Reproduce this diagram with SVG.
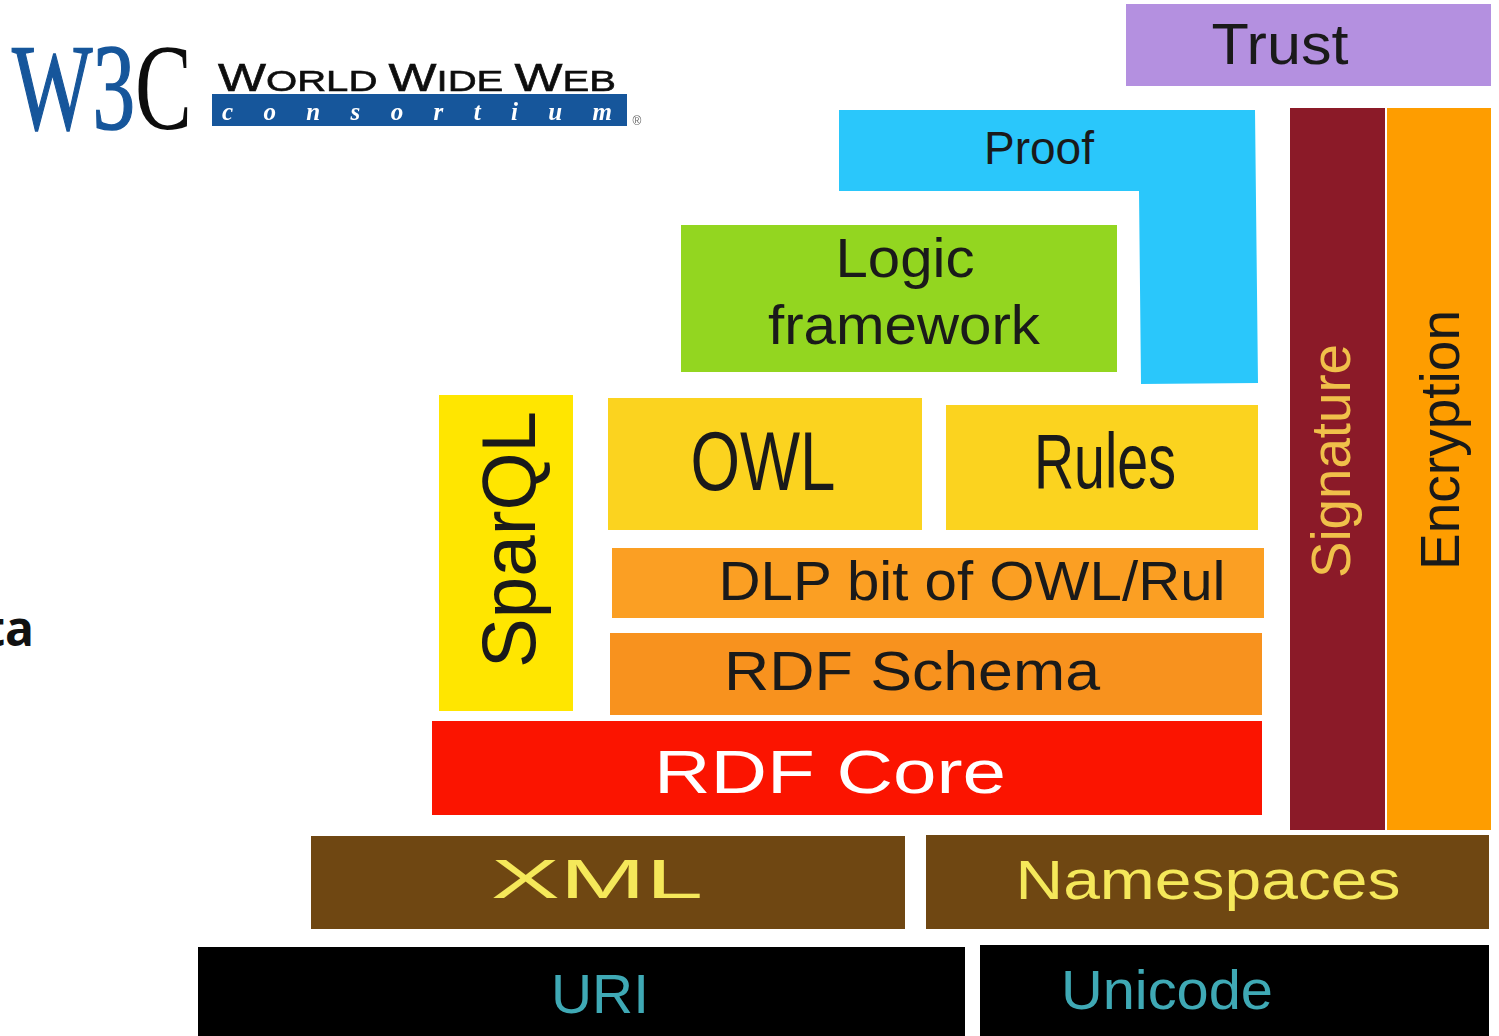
<svg xmlns="http://www.w3.org/2000/svg" width="1499" height="1036" viewBox="0 0 1499 1036">
<style>
text{font-family:"Liberation Sans",Arial,sans-serif;fill:#1a1a1a;text-anchor:middle}
.y{fill:#f5e85a}.c{fill:#3fa9b5}.w{fill:#fff}
</style>
<defs><filter id="soft" x="-5%" y="-5%" width="110%" height="110%"><feGaussianBlur stdDeviation="0.7"/></filter></defs>
<rect width="1499" height="1036" fill="#fff"/>
<g id="logo" filter="url(#soft)">
<text x="102" y="129" textLength="180" lengthAdjust="spacingAndGlyphs" style="font-family:'Liberation Serif',serif;font-size:122px;fill:#17569b;stroke:#17569b;stroke-width:1.5">W3<tspan style="fill:#111;stroke:none">C</tspan></text>
<text x="417" y="91" textLength="398" lengthAdjust="spacingAndGlyphs" style="font-size:30px;fill:#111;stroke:#111;stroke-width:.6"><tspan style="font-size:38px">W</tspan>ORLD  <tspan style="font-size:38px">W</tspan>IDE  <tspan style="font-size:38px">W</tspan>EB</text>
<rect x="212" y="94" width="415" height="32" fill="#17569b"/>
<text x="417" y="120" textLength="390" lengthAdjust="spacing" class="w" style="font-family:'Liberation Serif',serif;font-size:25px;font-style:italic;font-weight:bold">consortium</text>
<text x="637" y="125" style="font-size:12px;fill:#666">®</text>
</g>
<g id="cut-text"><text x="34" y="646" style="font-family:'Open Sans',sans-serif;font-weight:bold;font-size:48px;text-anchor:end;fill:#111">ta</text></g>
<g id="trust"><rect x="1126" y="4" width="365" height="82" fill="#b490e0"/><text x="1280" y="64" textLength="137" lengthAdjust="spacingAndGlyphs" style="font-size:57px">Trust</text></g>
<g id="proof"><path d="M839 110H1255L1258 383L1141 384L1139 191H839Z" fill="#2ac7fb"/><text x="1039" y="164" textLength="110" lengthAdjust="spacingAndGlyphs" style="font-size:47px">Proof</text></g>
<g id="logic"><rect x="681" y="225" width="436" height="147" fill="#93d620"/><text x="905" y="277" textLength="139" lengthAdjust="spacingAndGlyphs" style="font-size:56px">Logic</text><text x="904" y="344" textLength="272" lengthAdjust="spacingAndGlyphs" style="font-size:56px">framework</text></g>
<g id="sparql"><rect x="439" y="395" width="134" height="316" fill="#ffe600"/><text transform="translate(535 539.5) rotate(-90)" textLength="257" lengthAdjust="spacingAndGlyphs" style="font-size:76px">SparQL</text></g>
<g id="owl"><rect x="608" y="398" width="314" height="132" fill="#fbd31f"/><text x="763" y="490" textLength="145" lengthAdjust="spacingAndGlyphs" style="font-size:84px">OWL</text></g>
<g id="rules"><rect x="946" y="405" width="312" height="125" fill="#fbd31f"/><text x="1105" y="488" textLength="142" lengthAdjust="spacingAndGlyphs" style="font-size:78px">Rules</text></g>
<g id="dlp"><rect x="612" y="548" width="652" height="70" fill="#fb9f23"/><text x="972" y="600" textLength="507" lengthAdjust="spacingAndGlyphs" style="font-size:56px">DLP bit of OWL/Rul</text></g>
<g id="rdfs"><rect x="610" y="633" width="652" height="82" fill="#f8921e"/><text x="912" y="690" textLength="376" lengthAdjust="spacingAndGlyphs" style="font-size:56px">RDF Schema</text></g>
<g id="rdfcore"><rect x="432" y="721" width="830" height="94" fill="#fb1400"/><text x="830" y="793" class="w" style="font-size:62px" textLength="352" lengthAdjust="spacingAndGlyphs">RDF Core</text></g>
<g id="signature"><rect x="1290" y="108" width="95" height="722" fill="#8b1a28"/><text transform="translate(1350 461) rotate(-90)" textLength="234" lengthAdjust="spacingAndGlyphs" style="font-size:56px;fill:#f0c04a">Signature</text></g>
<g id="encryption"><rect x="1387" y="108" width="104" height="722" fill="#fe9d00"/><text transform="translate(1459 440) rotate(-90)" textLength="260" lengthAdjust="spacingAndGlyphs" style="font-size:56px">Encryption</text></g>
<g id="xml"><rect x="311" y="836" width="594" height="93" fill="#6f4712"/><text x="597" y="898" class="y" textLength="212" lengthAdjust="spacingAndGlyphs" style="font-size:56px">XML</text></g>
<g id="namespaces"><rect x="926" y="835" width="563" height="94" fill="#6f4712"/><text x="1208" y="899" class="y" textLength="385" lengthAdjust="spacingAndGlyphs" style="font-size:56px">Namespaces</text></g>
<g id="uri"><rect x="198" y="947" width="767" height="89" fill="#000"/><text x="600" y="1013" class="c" textLength="98" lengthAdjust="spacingAndGlyphs" style="font-size:56px">URI</text></g>
<g id="unicode"><rect x="980" y="945" width="509" height="91" fill="#000"/><text x="1167" y="1009" class="c" textLength="212" lengthAdjust="spacingAndGlyphs" style="font-size:56px">Unicode</text></g>
<g id="connectors"></g>
</svg>
